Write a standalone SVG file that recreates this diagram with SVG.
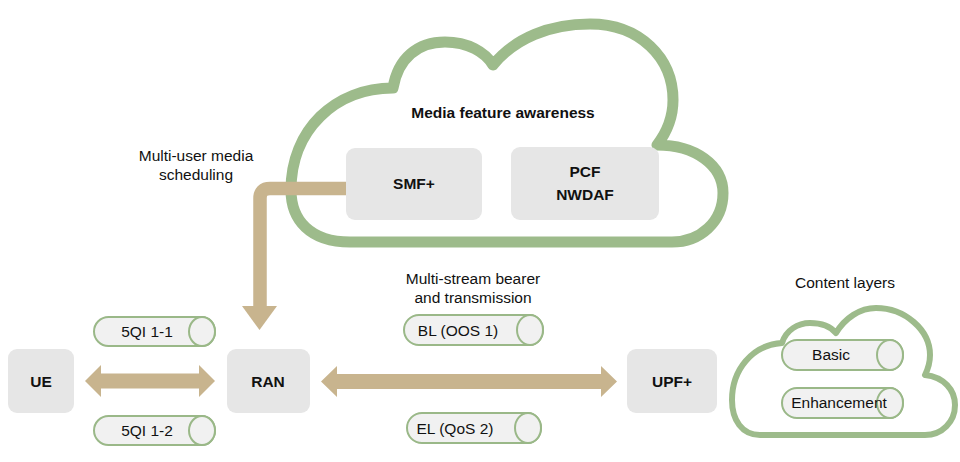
<svg xmlns="http://www.w3.org/2000/svg" width="960" height="462" viewBox="0 0 960 462">
<style>
.cloud{fill:#ffffff;stroke:#9dbb8b;stroke-linejoin:round}
.box{fill:#e6e6e6}
.t{font-family:"Liberation Sans",Arial,sans-serif;font-size:15.5px;fill:#111}
.b{font-weight:bold}
.pipe{fill:#f1f1f1;stroke:#9ab888;stroke-width:2}
.arr{fill:#c8b48e}
</style>
<rect width="960" height="462" fill="#ffffff"/>
<g id="core-cloud">
<path class="cloud" stroke-width="11" d="M 350,242 C 310,242 291,220 291,190 C 291,130 335,88 393,88 C 398,58 418,42 445,42 C 468,42 485,52 493,65 C 515,38 550,24 590,24 C 640,24 673,58 673,100 C 673,118 667,132 657,145 C 695,145 723,165 723,193 C 723,222 700,242 672,242 Z"/>
<text class="t b" x="503" y="118" text-anchor="middle">Media feature awareness</text>
</g>
<g id="smf">
<rect class="box" x="346" y="148" width="136" height="72" rx="9"/>
<text class="t b" x="414" y="189" text-anchor="middle">SMF+</text>
</g>
<g id="pcf">
<rect class="box" x="511" y="147" width="148" height="73" rx="9"/>
<text class="t b" x="585" y="177" text-anchor="middle">PCF</text>
<text class="t b" x="585" y="200" text-anchor="middle">NWDAF</text>
</g>
<g id="content-cloud">
<path class="cloud" stroke-width="6" d="M 760,435 C 742,435 732,420 732,400 C 732,370 752,345 782,343 C 786,330 798,323 810,323 C 822,323 831,327 836,333 C 845,318 860,308 876,308 C 905,308 930,330 930,355 C 930,362 928,369 925,375 C 944,377 955,390 955,405 C 955,422 942,435 925,435 Z"/>
<text class="t" x="845" y="288" text-anchor="middle">Content layers</text>
</g>
<g id="basic">
<path class="pipe" d="M 797,340 H 890 A 13,15 0 0 1 890,370 H 797 A 15,15 0 0 1 797,340 Z"/>
<ellipse class="pipe" cx="890" cy="355" rx="13" ry="15"/>
<text class="t" x="831" y="360" text-anchor="middle">Basic</text>
</g>
<g id="enhancement">
<path class="pipe" d="M 797,388 H 890 A 13,15 0 0 1 890,418 H 797 A 15,15 0 0 1 797,388 Z"/>
<ellipse class="pipe" cx="890" cy="403" rx="13" ry="15"/>
<text class="t" x="839" y="408" text-anchor="middle">Enhancement</text>
</g>
<g id="ue">
<rect class="box" x="8" y="349" width="66" height="64" rx="9"/>
<text class="t b" x="41" y="387" text-anchor="middle">UE</text>
</g>
<g id="ran">
<rect class="box" x="227" y="349" width="83" height="64" rx="9"/>
<text class="t b" x="268" y="387" text-anchor="middle">RAN</text>
</g>
<g id="upf">
<rect class="box" x="627" y="349" width="90" height="64" rx="9"/>
<text class="t b" x="672" y="387" text-anchor="middle">UPF+</text>
</g>
<g id="qi11">
<path class="pipe" d="M 108.5,317 H 202 A 13,14.5 0 0 1 202,346 H 108.5 A 14.5,14.5 0 0 1 108.5,317 Z"/>
<ellipse class="pipe" cx="202" cy="331.5" rx="13" ry="14.5"/>
<text class="t" x="147" y="337" text-anchor="middle">5QI 1-1</text>
</g>
<g id="qi12">
<path class="pipe" d="M 108.5,416 H 202 A 13,14.5 0 0 1 202,445 H 108.5 A 14.5,14.5 0 0 1 108.5,416 Z"/>
<ellipse class="pipe" cx="202" cy="430.5" rx="13" ry="14.5"/>
<text class="t" x="147" y="436" text-anchor="middle">5QI 1-2</text>
</g>
<g id="bl">
<path class="pipe" d="M 419,315 H 530 A 13,15 0 0 1 530,345 H 419 A 15,15 0 0 1 419,315 Z"/>
<ellipse class="pipe" cx="530" cy="330" rx="13" ry="15"/>
<text class="t" x="458" y="336" text-anchor="middle">BL (OOS 1)</text>
</g>
<g id="el">
<path class="pipe" d="M 422,413 H 528 A 13,15 0 0 1 528,443 H 422 A 15,15 0 0 1 422,413 Z"/>
<ellipse class="pipe" cx="528" cy="428" rx="13" ry="15"/>
<text class="t" x="455" y="434" text-anchor="middle">EL (QoS 2)</text>
</g>
<g id="connectors">
<path d="M 346,188.5 H 270 Q 260,188.5 260,198.5 V 308" fill="none" stroke="#c8b48e" stroke-width="13.5"/>
<polygon class="arr" points="242,306 277,306 259.5,330"/>
<polygon class="arr" points="85,381 101,365 101,373.5 199,373.5 199,365 215,381 199,397 199,388.5 101,388.5 101,397"/>
<polygon class="arr" points="321,381.5 337,366 337,374 601,374 601,366 617,381.5 601,397 601,389 337,389 337,397"/>
</g>
<g id="labels">
<text class="t" x="196" y="161" text-anchor="middle">Multi-user media</text>
<text class="t" x="196" y="180" text-anchor="middle">scheduling</text>
<text class="t" x="473" y="284" text-anchor="middle">Multi-stream bearer</text>
<text class="t" x="473" y="303" text-anchor="middle">and transmission</text>
</g>
</svg>
